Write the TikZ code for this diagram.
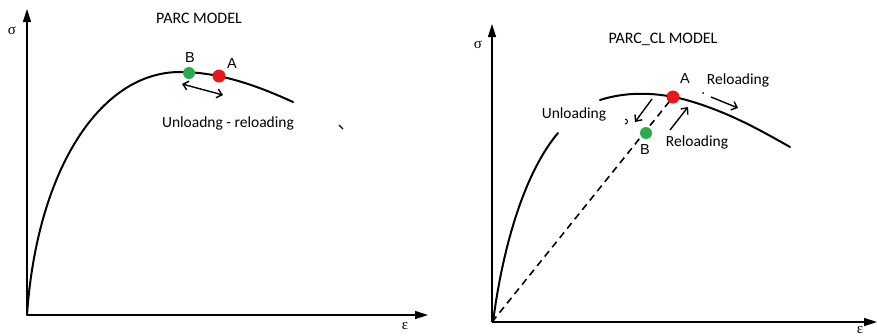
\documentclass[tikz,border=0pt]{standalone}
\usepackage{fontspec}
\setmainfont{Carlito}
\newfontfamily\arialf{Liberation Sans}
\newfontfamily\timesf{Liberation Serif}
\usetikzlibrary{arrows.meta}
\definecolor{ptred}{RGB}{232,24,28}
\definecolor{ptgreen}{RGB}{44,170,78}
\tikzset{
  axis/.style={line width=1.4pt,-{Triangle[width=8pt,length=13pt]}},
  curve/.style={line width=2pt,line cap=round},
  ann/.style={line width=1.4pt,-{Straight Barb[length=5pt,width=9pt]}},
  twoann/.style={line width=1.4pt,{Straight Barb[length=5pt,width=9pt]}-{Straight Barb[length=5pt,width=9pt]}},
  title/.style={font=\fontsize{16}{18}\selectfont},
  lbl/.style={font=\fontsize{15.5}{18}\selectfont},
  ptlbl/.style={font=\arialf\fontsize{14.5}{16}\selectfont},
  greek/.style={font=\timesf\fontsize{15}{16}\selectfont},
  dotA/.style={circle,fill=ptred,minimum size=13pt,inner sep=0pt},
  dotB/.style={circle,fill=ptgreen,minimum size=12pt,inner sep=0pt}
}
\begin{document}
\begin{tikzpicture}[x=1pt,y=-1pt]
\useasboundingbox (0,0) rectangle (877,335);
% ---------- left panel ----------
\coordinate (O1) at (27,315);
\coordinate (Y1) at (27,9);
\coordinate (X1) at (428,315);
\draw[axis] (O1) -- (Y1);
\draw[axis] (O1) -- (X1);
\node[greek] (s1) at (12,31) {σ};
\node[greek] (e1) at (405,326) {ε};
\node[title] (t1) at (199,18) {PARC MODEL};
\draw[curve] (O1) .. controls (37,170) and (100,72) .. (180,72)
                  .. controls (220,72) and (258,86) .. (293,102);
\node[dotB] (B1) at (189,73) {};
\node[dotA] (A1) at (219,76) {};
\node[ptlbl] (lB1) at (190,58) {B};
\node[ptlbl] (lA1) at (232,64) {A};
\coordinate (u1) at (182,84);
\coordinate (u2) at (223,95);
\draw[twoann] (u1) -- (u2);
\node[lbl] (ur) at (228,123) {Unloadng - reloading};
\coordinate (m1) at (339,125);
\coordinate (m2) at (343,129);
\draw[line width=1.2pt] (m1) -- (m2);
% ---------- right panel ----------
\coordinate (O2) at (492,322);
\coordinate (Y2) at (492,24);
\coordinate (X2) at (877,322);
\draw[axis] (O2) -- (Y2);
\draw[axis] (O2) -- (X2);
\node[greek] (s2) at (478,45) {σ};
\node[greek] (e2) at (860,330) {ε};
\node[title] (t2) at (663,39) {PARC\_CL MODEL};
\draw[curve] (493,322) .. controls (503,245) and (525,172) .. (558,133);
\draw[curve] (600,100) .. controls (625,92) and (655,91) .. (690,101)
                  .. controls (730,113) and (760,130) .. (790,147);
\draw[line width=1.6pt,dash pattern=on 7pt off 5pt] (O2) -- (673,97);
\node[dotA] (A2) at (673,97) {};
\node[dotB] (B2) at (646,133) {};
\node[ptlbl] (lA2) at (685,79) {A};
\node[ptlbl] (lB2) at (645,150) {B};
\node[lbl] (rl1) at (738,80) {Reloading};
\node[lbl] (ul2) at (574,114) {Unloading};
\node[lbl] (rl2) at (697,142) {Reloading};
\coordinate (ua) at (652,99);
\coordinate (ub) at (635,122);
\draw[ann] (ua) -- (ub);
\coordinate (ra) at (670,130);
\coordinate (rb) at (688,107);
\draw[ann] (ra) -- (rb);
\coordinate (rc) at (711,97);
\coordinate (rd) at (738,108);
\draw[ann] (rc) -- (rd);
\fill (703,93) circle (1pt);
\draw[line width=1pt] (625,119) arc (90:-90:2.5pt);
\end{tikzpicture}
\end{document}
